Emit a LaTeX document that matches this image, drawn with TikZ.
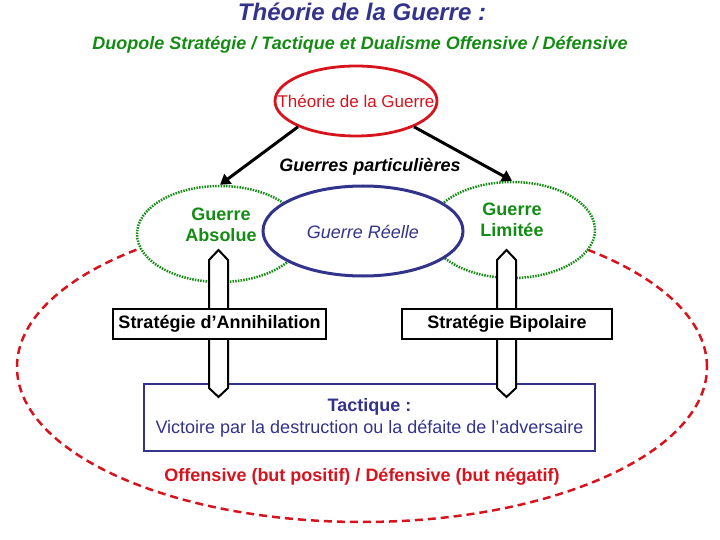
\documentclass[tikz,border=0pt]{standalone}
\usepackage{fontspec}
\setmainfont{Liberation Sans}
\usetikzlibrary{shapes.geometric,arrows.meta}
\definecolor{dblue}{RGB}{51,51,140}
\definecolor{dgreen}{RGB}{20,140,20}
\definecolor{dred}{RGB}{215,20,30}
\begin{document}
\begin{tikzpicture}[x=1pt,y=-1pt,
  txt/.style={inner sep=0pt,font=\fontsize{18}{21}\selectfont},
  ell/.style={ellipse,inner sep=0pt,fill=white},
  greenell/.style={ell,draw=dgreen,line width=2.5pt,dash pattern=on 1.5pt off 1.2pt,minimum width=166pt,minimum height=96pt},
  stratbox/.style={draw=black,line width=2.5pt,fill=white,inner sep=0pt,minimum height=30pt,font=\fontsize{18}{21}\selectfont\bfseries},
  blockarrow/.style={draw=black,line width=2pt,fill=white,line join=miter},
  conn/.style={draw=black,line width=3pt,-{Triangle[length=10pt,width=12pt]}}]
\useasboundingbox (0,0) rectangle (720,540);

% title
\node[txt,font=\fontsize{24}{28}\selectfont\bfseries\itshape,text=dblue] (title) at (362,12) {Théorie de la Guerre :};
\node[txt,font=\fontsize{18}{21}\selectfont\bfseries\itshape,text=dgreen] (subtitle) at (360,45) {Duopole Stratégie / Tactique et Dualisme Offensive / Défensive};

% outer dashed ellipse
\node[ellipse,inner sep=0pt,draw=dred,line width=2.5pt,dash pattern=on 8pt off 5pt,minimum width=690pt,minimum height=310pt] (outer) at (362,367) {};

% green ellipses
\node[greenell] (absolue) at (220,234) {};
\node[greenell] (limitee) at (512,230) {};
% blue ellipse
\node[ell,draw=dblue,line width=3pt,minimum width=200pt,minimum height=90pt] (reelle) at (363,231) {};
% red ellipse
\node[ell,draw=dred,line width=2.8pt,minimum width=162pt,minimum height=70pt] (theorie) at (356,101) {};

% texts of ellipses
\node[txt,font=\fontsize{18}{21}\selectfont\bfseries,text=dgreen,align=center] (absoluetxt) at (221,225) {Guerre\\Absolue};
\node[txt,font=\fontsize{18}{21}\selectfont\bfseries,text=dgreen,align=center] (limiteetxt) at (512,220) {Guerre\\Limitée};
\node[txt,font=\fontsize{18}{21}\selectfont\itshape,text=dblue] (reelletxt) at (363,232) {Guerre Réelle};
\node[txt,font=\fontsize{17}{20}\selectfont,text=dred] (theorietxt) at (356,101) {Théorie de la Guerre};

% tactique box
\node[draw=dblue,line width=2.5pt,fill=white,minimum width=451pt,minimum height=67pt,inner sep=0pt,align=center,text=dblue,font=\fontsize{18}{22}\selectfont] (tactique) at (369.5,417.5) {\textbf{Tactique :}\\Victoire par la destruction ou la défaite de l’adversaire};

% block double arrows
\coordinate (la1) at (218.5,250);
\coordinate (la2) at (218.5,397);
\coordinate (ra1) at (506.5,250);
\coordinate (ra2) at (506.5,397);
\path[blockarrow] (la1) -- ++(9.5,10) -- ++(0,128) -- (la2) -- ++(-9.5,-9) -- ++(0,-128) -- cycle;
\path[blockarrow] (ra1) -- ++(9.5,10) -- ++(0,128) -- (ra2) -- ++(-9.5,-9) -- ++(0,-128) -- cycle;

% strategy boxes
\node[stratbox,minimum width=213pt] (annihilation) at (219.5,324) {Stratégie d’Annihilation};
\node[stratbox,minimum width=210pt] (bipolaire) at (507,324) {Stratégie Bipolaire};

% connectors
\draw[conn] (theorie.204) -- (absolue.north);
\draw[conn] (theorie.336) -- (limitee.north);

\node[txt,font=\fontsize{18}{21}\selectfont\bfseries\itshape] (particulieres) at (370,167) {Guerres particulières};

\node[txt,font=\fontsize{18}{21}\selectfont\bfseries,text=dred] (offensive) at (362,477) {Offensive (but positif) / Défensive (but négatif)};
\end{tikzpicture}
\end{document}
